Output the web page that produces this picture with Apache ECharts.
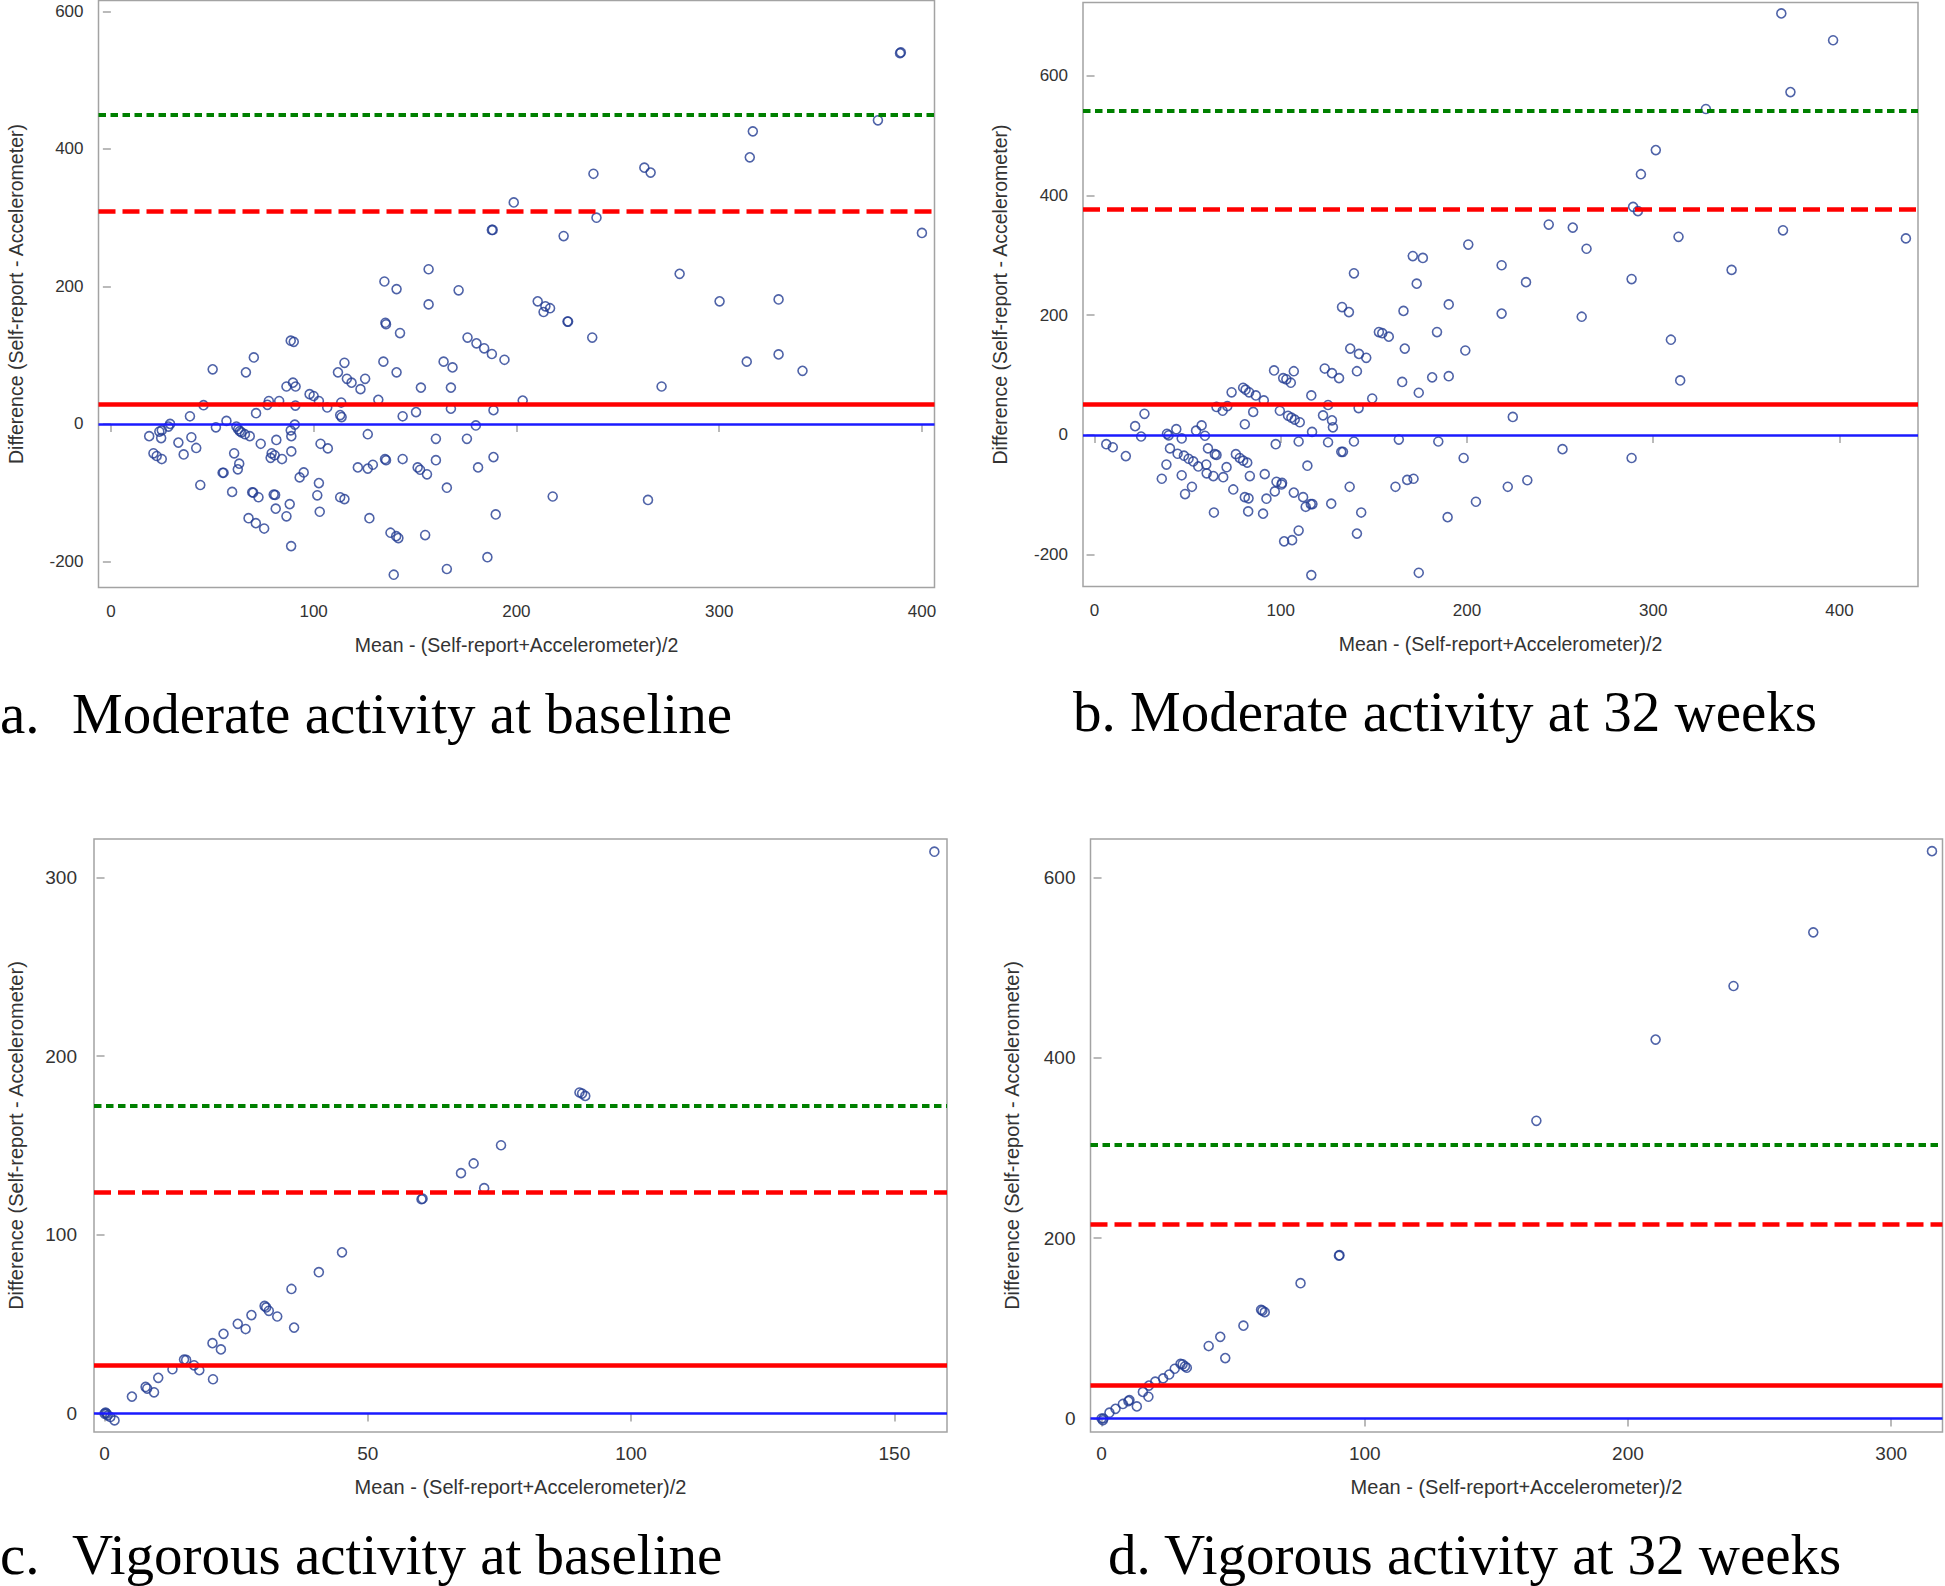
<!DOCTYPE html>
<html><head><meta charset="utf-8">
<script src="https://cdn.jsdelivr.net/npm/echarts@6/dist/echarts.min.js"></script>
<style>html,body{margin:0;padding:0;background:#fff}#c{width:1945px;height:1586px}</style>
</head><body><div id="c"></div>
<script>
// ---------- Panel a: Moderate activity at baseline ----------
const aX = [18.9,21,22.6,25.1,23.9,24.8,25.1,29.2,28.4,33.3,35.9,39,39.7,42.1,44.1,45.7,50.2,51.8,55.1,55.6,57,59.8,60.8,61.9,62.8,63.6,64.4,66.1,68.5,63.3,62.6,66.6,70.5,71.6,69.7,70.2,72.8,73.9,67.9,71.5,75.6,77.2,77.9,83,78.8,79.3,80.8,81.6,84.4,80.3,81,81.3,86.6,88.2,88.9,88.7,90.2,86.6,89.8,91.1,91,88.7,89,90.7,89,93.1,95.1,98,100,102.6,106.7,102.6,101.8,103,103.4,107,112,115.2,116.4,118.7,123.1,125.4,113.6,113.1,113.8,113.1,115.2,121.8,126.7,129.2,126.7,127.5,131.9,134.4,134.9,135.4,135.7,140.9,142.6,140.9,135.2,135.7,137.9,140.7,141.8,139.5,143.9,143.9,150.5,151.3,152.5,155.9,152.9,155,156.7,156.7,160.3,160.3,164.1,168.5,167.7,167.7,165.7,165.7,171.5,175.9,175.6,180,180.3,184.1,187.9,181.1,185.7,187.9,188.3,188.7,188.7,189.8,194.1,198.7,203.1,210.5,213.4,214.3,216.6,217.9,223.3,225.2,225.5,237.4,238,239.5,263.1,266.2,264.9,271.6,280.5,300.2,313.6,315.1,316.6,329.3,329.3,341.1,378.3,389.2,389.6,400];
const aY = [-17.8,-42.8,-46.7,-51.1,-11.1,-20.6,-9.4,0,-3.9,-27.2,-44.4,11.1,-19.4,-35,-88.9,27.2,79.4,-5,-71.1,-71.1,4.4,-98.9,-42.8,-3.9,-7.8,-10.6,-12.2,-15,-17.8,-57.8,-66.1,75,96.7,15.6,-99.4,-100,-106.7,-28.9,-137.2,-144.4,-152.2,27.8,33.3,33.3,-49.4,-42.8,-45.6,-23.3,-51.1,-102.8,-103.3,-123.3,-134.4,-116.7,-177.8,121.1,119.4,54.4,60,54.4,26.7,-9.4,-17.8,-1.1,-40,-77.8,-70.6,43.3,40.6,33.3,23.9,-86.1,-103.9,-127.8,-28.9,-35.6,75,88.9,65.6,60,50.6,65.6,31.1,12.8,10,-106.7,-109.4,-63.3,-65,-59.4,-15,-137.2,35,90.6,207.2,147.2,145,196.1,132.2,75,-51.1,-52.8,-158.3,-163.3,-166.1,-219.4,11.1,-51.1,17.2,-63.3,-66.7,-73.3,52.8,-161.7,225,173.9,-21.7,-52.8,90.6,82.2,52.8,22.2,-92.8,-211.1,194.4,125.6,-21.7,-2.2,117.2,110,101.7,-63.3,-193.9,282.2,282.2,20,-48.3,-131.7,93.3,322.2,33.9,178.3,162.8,171.1,168.3,-105.6,273.3,148.9,148.9,125.6,363.9,300,372.8,365.6,-110.6,54.4,218.3,178.3,90.6,387.8,425.6,181.1,101.1,77.2,441.7,539.4,540.5,277.8];
const aLines = [0, 28.3, 308.8, 450.5];   // zero, mean, dashed limit, dotted limit
const aXTicks = [0,100,200,300,400];
const aYTicks = [-200,0,200,400,600];

// ---------- Panel b: Moderate activity at 32 weeks ----------
const bX = [6.3,9.8,16.8,21.8,25,26.8,36.1,38.6,38.9,39.8,40.5,43.9,44.6,46.8,46.8,48.6,48,50.5,53,55.7,52.3,54.5,57.5,59.3,60,60.9,60.2,63.8,64.6,65.5,64.1,65.5,68.8,71.3,69.1,70.9,73.6,74.5,75.9,78,79.8,82,79.8,81.1,83,86.6,80.7,85.2,80.7,82.7,82.5,83.4,90.9,91.4,90.5,92.3,96.4,97.3,96.8,97.7,100.4,100.7,99.5,101.3,103,105.4,107,103.9,105.7,107.5,110.2,109.6,107,101.8,106.1,109.6,112,113.4,116.1,117,114.3,116.4,116.8,116.4,123.6,127.5,131.3,122.7,125.4,127.5,128,125.4,127.1,132.5,133.4,132.9,136.6,139.3,137.3,142,145.9,140.9,141.8,139.3,137,143.2,140.9,149.1,152.7,154.5,158,163.4,161.6,165.2,165.9,166.6,167.9,171.3,170.9,176.3,173,174.1,174.1,181.3,183.9,184.6,190.2,190.2,189.6,199.1,198.2,200.7,204.8,218.6,218.6,221.9,224.6,231.7,232.4,243.9,251.3,256.8,261.6,264.2,288.4,288.4,289.2,291.8,293.4,301.4,309.5,313.6,314.5,328.3,342.1,368.8,369.7,373.7,396.6,435.7];
const bY = [-15.4,-20.5,-35.3,14.7,-2.6,35.3,-73.1,-49.4,1.9,-0.6,-22.4,9.6,-31.4,-5.8,-67.3,-98.7,-34.6,-39.7,-44.2,-52.6,-86.5,7.1,16,-1.3,-49.4,-22.4,-64.1,-68.6,-32,-33.3,-129.5,46.8,40.4,48.1,-70.5,-53.8,71.2,-91,-32,-38.5,-42.9,-46.2,78.8,75.6,71.2,66,17.9,38.5,-103.8,-105.8,-127.6,-68.6,57.7,-65.4,-131.4,-106.4,107.7,-15.4,-94.2,-78.2,-82.7,-80.1,40.4,94.9,92.9,87.2,106.4,32.1,28.8,25.6,21.2,-10.9,-96.2,-177.6,-175.6,-159.6,-103.8,-119.9,-115.4,-115.4,-51.3,66,5.1,-234,110.9,103.2,94.9,32.7,50,24.4,12.8,-12.2,-114.7,-28.2,-28.2,213.5,205.1,269.9,144.2,135.3,128.8,106.4,44.9,-10.9,-86.5,-129.5,-164.7,60.9,171.8,169.9,164.1,-7.7,-86.5,88.5,207.1,144.2,-75,-73.1,298.7,295.5,252.6,70.5,-230.1,96.2,171.8,-10.9,217.9,98.1,-137.2,141,-38.5,317.9,-111.5,283.3,202.6,-86.5,30.1,255.1,-75.6,351.3,-23.7,346.2,197.4,310.9,260.3,-38.5,380.8,373.7,435.3,475.6,159,330.8,91,544.2,275.6,703.8,341.7,572.4,659,328.2];
const bLines = [0, 50.5, 377, 541.5];
const bXTicks = [0,100,200,300,400];
const bYTicks = [-200,0,200,400,600];

// ---------- Panel c: Vigorous activity at baseline ----------
const cX = [157.6,90.2,90.7,91.3,75.3,67.7,70.1,72.1,60.2,60.4,45.1,40.7,35.5,36,32.8,30.4,30.7,31.2,27.9,26.8,25.3,22.6,22.1,20.5,20.6,18,17,15.1,15.5,12.9,10.2,9.4,7.8,8.1,5.2,0.4,0.6,1.1,1.9,0,0.2];
const cY = [314.3,179.6,179,177.7,150.1,134.5,139.9,126.1,119.9,120.2,90.2,79.1,69.7,48.1,54.3,60.2,59.4,57.5,55.1,47.3,50.2,44.6,35.9,39.4,19.2,24.3,27,30.2,30,24.8,20,11.9,14.9,14,9.5,0,-1,-1.9,-3.8,0,0.5];
const cLines = [0, 27, 123.7, 172.3];
const cXTicks = [0,50,100,150];
const cYTicks = [0,100,200,300];

// ---------- Panel d: Vigorous activity at 32 weeks ----------
const dX = [315.5,270.4,240.1,210.5,165.2,90.2,90.4,75.6,60.6,61.1,62,53.9,45.1,47,40.7,30,30.8,31.7,32.4,27.8,25.7,23.4,20.4,18,17.8,15.7,13.4,10.6,10.2,8.1,5.3,3,0.7,0.5,0];
const dY = [629.5,539.4,479.9,420.4,330.3,180.7,181.2,150.1,120.6,119.6,118,103,90.6,67,80.4,60.6,60.1,57.9,56.3,55.2,48.8,44.5,40.8,36.5,24.1,29.5,13.4,20.4,19.3,16.1,10.7,6.4,0,-2,0];
const dLines = [0, 36.5, 215, 303.5];
const dXTicks = [0,100,200,300];
const dYTicks = [0,200,400,600];

const titles = ['a.', 'Moderate activity at baseline', 'b. Moderate activity at 32 weeks',
                'c.', 'Vigorous activity at baseline', 'd. Vigorous activity at 32 weeks'];
const xName = 'Mean - (Self-report+Accelerometer)/2';
const yName = 'Difference (Self-report - Accelerometer)';

// ---------- layout / styling ----------
const panels = [
  {xs:aX, ys:aY, lines:aLines, xt:aXTicks, yt:aYTicks, xr:[-6.1,406.2], yr:[-238,616],
   grid:{left:98.5, top:0.5, width:836, height:587}, lf:17, nf:19.5, xm:15, ym:15, xg:47, yg:73},
  {xs:bX, ys:bY, lines:bLines, xt:bXTicks, yt:bYTicks, xr:[-6.2,442.2], yr:[-253,722],
   grid:{left:1083, top:2.5, width:835, height:584}, lf:17, nf:19.5, xm:15, ym:15, xg:47, yg:73},
  {xs:cX, ys:cY, lines:cLines, xt:cXTicks, yt:cYTicks, xr:[-2,160], yr:[-10.3,321.4],
   grid:{left:94, top:839, width:853, height:593}, lf:19, nf:20, xm:12, ym:17, xg:45, yg:68},
  {xs:dX, ys:dY, lines:dLines, xt:dXTicks, yt:dYTicks, xr:[-4.2,319.5], yr:[-15,643],
   grid:{left:1090.5, top:839, width:852, height:593}, lf:19, nf:20, xm:12, ym:15, xg:45, yg:69}
];

const SANS = '"Liberation Sans", Arial, sans-serif';
const SERIF = '"Liberation Serif", "Times New Roman", serif';
const frame = '#a3a3a3';
const lineStyles = [
  {color:'#1a1aff', width:2.5, type:'solid'},
  {color:'#ff0000', width:4.5, type:'solid'},
  {color:'#ff0000', width:4.5, type:[17,7]},
  {color:'#008000', width:4, type:[7.5,4.5]}
];

const option = {
  animation:false,
  backgroundColor:'#fff',
  grid: panels.map(p => Object.assign({show:true, borderColor:frame, borderWidth:1.5, backgroundColor:'#fff'}, p.grid)),
  xAxis: panels.map((p,i) => ({
    gridIndex:i, type:'value', min:p.xr[0], max:p.xr[1],
    axisLine:{show:false}, splitLine:{show:false},
    axisTick:{show:true, length:8, lineStyle:{color:frame, width:1.5}, customValues:p.xt},
    axisLabel:{customValues:p.xt, margin:p.xm, fontSize:p.lf, color:'#333', fontFamily:SANS},
    name:xName, nameLocation:'middle', nameGap:p.xg,
    nameTextStyle:{fontSize:p.nf, color:'#333', fontFamily:SANS}
  })),
  yAxis: panels.map((p,i) => ({
    gridIndex:i, type:'value', min:p.yr[0], max:p.yr[1],
    axisLine:{show:false}, splitLine:{show:false},
    axisTick:{show:true, length:8, lineStyle:{color:frame, width:1.5}, customValues:p.yt},
    axisLabel:{customValues:p.yt, margin:p.ym, fontSize:p.lf, color:'#333', fontFamily:SANS},
    name:yName, nameLocation:'middle', nameGap:p.yg,
    nameTextStyle:{fontSize:p.nf, color:'#333', fontFamily:SANS}
  })),
  series: panels.map((p,i) => ({
    type:'scatter', xAxisIndex:i, yAxisIndex:i,
    data: p.xs.map((x,k) => [x, p.ys[k]]),
    symbol:'circle', symbolSize:9,
    itemStyle:{color:'rgba(0,0,0,0)', borderColor:'#233c92', borderWidth:1.6},
    markLine:{
      silent:true, symbol:['none','none'], label:{show:false}, animation:false,
      data: p.lines.map((v,k) => ({yAxis:v, lineStyle:lineStyles[k]}))
    }
  })),
  graphic: [
    {type:'text', x:0, y:713, style:{text:titles[0], fontSize:57, fontFamily:SERIF, fill:'#000', verticalAlign:'middle'}},
    {type:'text', x:72, y:713, style:{text:titles[1], fontSize:57, fontFamily:SERIF, fill:'#000', verticalAlign:'middle'}},
    {type:'text', x:1073, y:711, style:{text:titles[2], fontSize:57, fontFamily:SERIF, fill:'#000', verticalAlign:'middle'}},
    {type:'text', x:0, y:1554, style:{text:titles[3], fontSize:57, fontFamily:SERIF, fill:'#000', verticalAlign:'middle'}},
    {type:'text', x:72, y:1554, style:{text:titles[4], fontSize:57, fontFamily:SERIF, fill:'#000', verticalAlign:'middle'}},
    {type:'text', x:1108, y:1554, style:{text:titles[5], fontSize:57, fontFamily:SERIF, fill:'#000', verticalAlign:'middle'}}
  ]
};

const chart = echarts.init(document.getElementById('c'), null, {renderer:'svg', width:1945, height:1586});
chart.setOption(option);
</script>
</body></html>
